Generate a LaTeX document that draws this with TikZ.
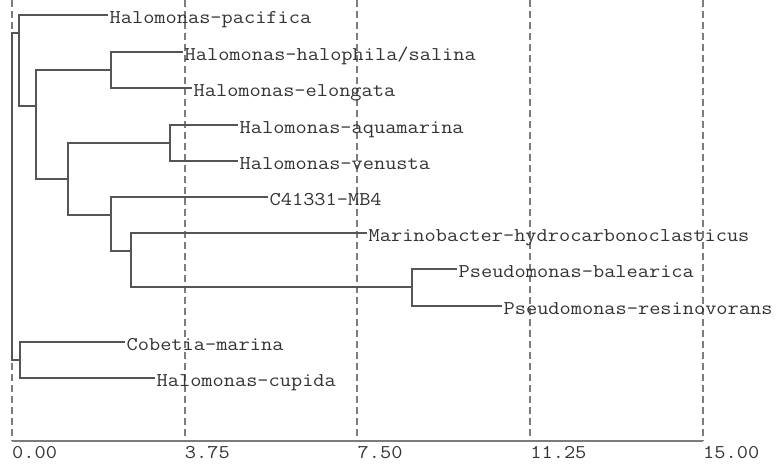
\documentclass[tikz,border=0pt]{standalone}
\usepackage{graphicx}
\definecolor{treegray}{HTML}{555555}
\definecolor{gridgray}{HTML}{7C7C7C}
\definecolor{labelgray}{HTML}{333333}
% monospaced labels, widened a little
\newcommand\wide[1]{\scalebox{1.115}[1]{#1}}
\begin{document}
\begin{tikzpicture}[x=1pt,y=-1pt,
  branch/.style={draw=treegray, line width=1.4pt, line join=miter},
  gridline/.style={draw=gridgray, line width=2pt, dash pattern=on 7pt off 4pt},
  axisline/.style={draw=gridgray, line width=2pt},
  taxon/.style={anchor=west, inner xsep=1.5pt, inner ysep=0pt,
    text height=16pt, text depth=0pt, text=labelgray,
    font=\ttfamily\fontsize{19.5}{20}\selectfont},
  ticklabel/.style={anchor=base west, inner sep=0pt, text=labelgray,
    font=\ttfamily\fontsize{19.5}{20}\selectfont}]
\useasboundingbox (0,0) rectangle (783,467);

% scale: dashed grid lines every 3.75 units
\foreach \gx in {12,185,357,530,703}
  \draw[gridline] (\gx,0) -- (\gx,441);
\coordinate (ax0) at (12,441);
\coordinate (ax1) at (703,441);
\draw[axisline] (ax0) -- (ax1);
\node[ticklabel] (t0) at (12,458) {\wide{0.00}};
\node[ticklabel] (t1) at (184.75,458) {\wide{3.75}};
\node[ticklabel] (t2) at (357.5,458) {\wide{7.50}};
\node[ticklabel] (t3) at (530.25,458) {\wide{11.25}};
\node[ticklabel] (t4) at (703,458) {\wide{15.00}};

% taxa
\node[taxon] (pac) at (108,15)  {\wide{Halomonas-pacifica}};
\node[taxon] (hal) at (183,52)  {\wide{Halomonas-halophila/salina}};
\node[taxon] (elo) at (192,88)  {\wide{Halomonas-elongata}};
\node[taxon] (aqu) at (238,125) {\wide{Halomonas-aquamarina}};
\node[taxon] (ven) at (238,161) {\wide{Halomonas-venusta}};
\node[taxon] (c41) at (268,197) {\wide{C41331-MB4}};
\node[taxon] (mar) at (367,233) {\wide{Marinobacter-hydrocarbonoclasticus}};
\node[taxon] (bal) at (457,269) {\wide{Pseudomonas-balearica}};
\node[taxon] (res) at (502,306) {\wide{Pseudomonas-resinovorans}};
\node[taxon] (cob) at (125,342) {\wide{Cobetia-marina}};
\node[taxon] (cup) at (155,378) {\wide{Halomonas-cupida}};

% internal nodes
\coordinate (r)   at (12,200);
\coordinate (nA)  at (19,33);
\coordinate (nC)  at (36,106);
\coordinate (nH1) at (111,70);
\coordinate (nD)  at (68,179);
\coordinate (nH2) at (170,143);
\coordinate (nE)  at (111,215);
\coordinate (nF)  at (131,251);
\coordinate (nP)  at (412,287);
\coordinate (nB)  at (20,360);

% branches
\draw[branch] (r) |- (nA);
\draw[branch] (r) |- (nB);
\draw[branch] (nA) |- (pac.west);
\draw[branch] (nA) |- (nC);
\draw[branch] (nC) |- (nH1);
\draw[branch] (nC) |- (nD);
\draw[branch] (nH1) |- (hal.west);
\draw[branch] (nH1) |- (elo.west);
\draw[branch] (nD) |- (nH2);
\draw[branch] (nD) |- (nE);
\draw[branch] (nH2) |- (aqu.west);
\draw[branch] (nH2) |- (ven.west);
\draw[branch] (nE) |- (c41.west);
\draw[branch] (nE) |- (nF);
\draw[branch] (nF) |- (mar.west);
\draw[branch] (nF) |- (nP);
\draw[branch] (nP) |- (bal.west);
\draw[branch] (nP) |- (res.west);
\draw[branch] (nB) |- (cob.west);
\draw[branch] (nB) |- (cup.west);
\end{tikzpicture}
\end{document}
